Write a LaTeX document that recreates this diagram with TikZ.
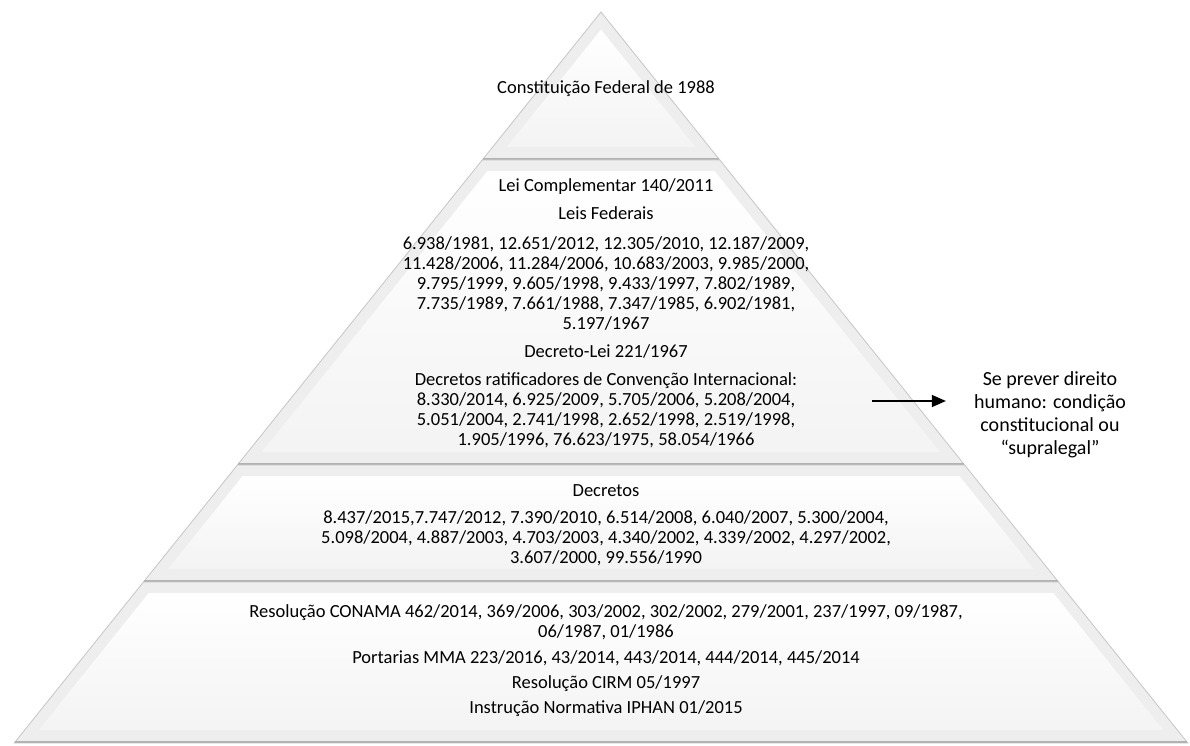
\documentclass[tikz,border=0pt]{standalone}
\usepackage{fontspec}
\setmainfont{Carlito}
\usetikzlibrary{arrows.meta}
\newcommand{\lnstrut}{\rule{0pt}{15pt}}

\begin{document}
\begin{tikzpicture}[x=1pt,y=-1pt,
    layertext/.style={font=\fontsize{18.5}{20}\selectfont,align=center,anchor=north,inner sep=0pt},
    notetext/.style={font=\fontsize{20}{23}\selectfont,align=center,anchor=north,inner sep=0pt}]
    \pgfmathsetmacro{\cx}{601}
    \pgfmathsetmacro{\apex}{12}
    \pgfmathsetmacro{\slope}{0.8027}
    \useasboundingbox (0,0) rectangle (1190,746);
    % the four layers, each with a bevelled face
    \foreach \t/\b in {12/160,160/465,465/582,582/743}{
        \pgfmathsetmacro{\wt}{(\t-\apex)*\slope}
        \pgfmathsetmacro{\wb}{(\b-\apex)*\slope}
        \pgfmathsetmacro{\ti}{max(\t+11,\apex+17.6)}
        \pgfmathsetmacro{\bi}{\b-13}
        \pgfmathsetmacro{\wti}{max(0,(\ti-\apex)*\slope-14.1)}
        \pgfmathsetmacro{\wbi}{(\bi-\apex)*\slope-14.1}
        \fill[gray!13] (\cx-\wt,\t) -- (\cx+\wt,\t) -- (\cx+\wb,\b) -- (\cx-\wb,\b) -- cycle;
        \shade[top color=white,bottom color=gray!9] (\cx-\wti,\ti) -- (\cx+\wti,\ti) -- (\cx+\wbi,\bi) -- (\cx-\wbi,\bi) -- cycle;
        \draw[gray!45,line width=0.8] (\cx-\wt,\t) -- (\cx+\wt,\t) -- (\cx+\wb,\b) -- (\cx-\wb,\b) -- cycle;
        \draw[gray!60,line width=2.2] (\cx-\wb+1,\b-1.2) -- (\cx+\wb-1,\b-1.2);
    }
    % texts of the layers
    \node[layertext] (cf) at (606,78) {\lnstrut Constituição Federal de 1988};
    \node[layertext] (lc) at (606,176) {\lnstrut Lei Complementar 140/2011};
    \node[layertext] (lf) at (606,204) {\lnstrut Leis Federais};
    \node[layertext] (lflist) at (606,234) {\lnstrut 6.938/1981, 12.651/2012, 12.305/2010, 12.187/2009,\\
        11.428/2006, 11.284/2006, 10.683/2003, 9.985/2000,\\
        9.795/1999, 9.605/1998, 9.433/1997, 7.802/1989,\\
        7.735/1989, 7.661/1988, 7.347/1985, 6.902/1981,\\
        5.197/1967};
    \node[layertext] (dl) at (606,342) {\lnstrut Decreto-Lei 221/1967};
    \node[layertext] (dr) at (606,370) {\lnstrut Decretos ratificadores de Convenção Internacional:\\
        8.330/2014, 6.925/2009, 5.705/2006, 5.208/2004,\\
        5.051/2004, 2.741/1998, 2.652/1998, 2.519/1998,\\
        1.905/1996, 76.623/1975, 58.054/1966};
    \node[layertext] (dec) at (606,481) {\lnstrut Decretos};
    \node[layertext] (declist) at (606,508) {\lnstrut 8.437/2015,7.747/2012, 7.390/2010, 6.514/2008, 6.040/2007, 5.300/2004,\\
        5.098/2004, 4.887/2003, 4.703/2003, 4.340/2002, 4.339/2002, 4.297/2002,\\
        3.607/2000, 99.556/1990};
    \node[layertext] (res) at (606,602) {\lnstrut Resolução CONAMA 462/2014, 369/2006, 303/2002, 302/2002, 279/2001, 237/1997, 09/1987,\\
        06/1987, 01/1986};
    \node[layertext] (mma) at (606,648) {\lnstrut Portarias MMA 223/2016, 43/2014, 443/2014, 444/2014, 445/2014};
    \node[layertext] (cirm) at (606,673) {\lnstrut Resolução CIRM 05/1997};
    \node[layertext] (iphan) at (606,698) {\lnstrut Instrução Normativa IPHAN 01/2015};
    % note on the right
    \node[notetext] (note) at (1050,370) {\lnstrut Se prever direito\\ humano: condição\\ constitucional ou\\ “supralegal”};
    \coordinate (arrtail) at (872,401);
    \draw[line width=1.3,-{Triangle[length=14pt,width=12pt]}] (arrtail) -- ([xshift=-28pt]note.west |- arrtail);
\end{tikzpicture}
\end{document}
